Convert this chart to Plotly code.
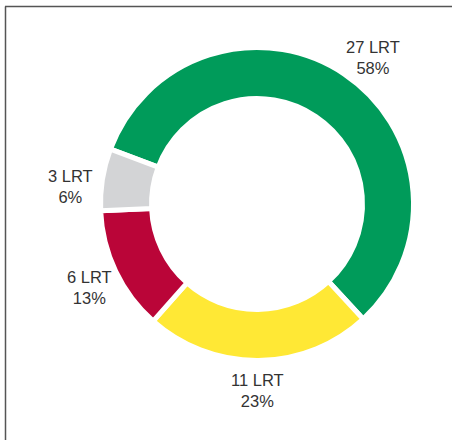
import math
import plotly.graph_objects as go

categories = ["27 LRT", "11 LRT", "6 LRT", "3 LRT"]
values = [27, 11, 6, 3]
percent_labels = ["58%", "23%", "13%", "6%"]
colors = ["#009B5A", "#FFE835", "#BA0538", "#D3D4D6"]

W, H = 452, 440
cx, cy, R = 257, 204, 156.5
start_deg = 159.5          # math angle where the first slice starts
label_dist = 187
label_angle_adj = [-4.4, -0.5, 1.0, 3.5]
FONT = "Liberation Sans, Arial, sans-serif"

fig = go.Figure(go.Pie(
    labels=categories,
    values=values,
    textinfo="none",
    hole=0.674,
    sort=False,
    direction="clockwise",
    rotation=90 - start_deg,
    marker=dict(colors=colors, line=dict(color="white", width=5)),
    showlegend=False,
    hoverinfo="skip",
    domain=dict(x=[(cx - R) / W, (cx + R) / W], y=[(H - cy - R) / H, (H - cy + R) / H]),
))

# label annotations placed at each slice's mid angle (computed from the data)
total = sum(values)
annotations = []
acc = 0
for cat, v, pct, adj in zip(categories, values, percent_labels, label_angle_adj):
    mid = start_deg - 360 * (acc + v / 2) / total + adj
    acc += v
    x = cx + label_dist * math.cos(math.radians(mid))
    y = cy - label_dist * math.sin(math.radians(mid))
    annotations.append(dict(
        x=x / W, y=1 - y / H, xref="paper", yref="paper",
        text=f"{cat}<br>{pct}", showarrow=False, xanchor="center", yanchor="middle",
        align="center", font=dict(family=FONT, size=16.5, color="#333333"),
    ))

fig.update_layout(
    width=W, height=H,
    margin=dict(l=0, r=0, t=0, b=0),
    paper_bgcolor="white",
    plot_bgcolor="white",
    annotations=annotations,
    shapes=[
        dict(type="line", xref="paper", yref="paper", x0=5.5 / W, x1=5.5 / W, y0=-0.01, y1=(H - 6.5) / H,
             line=dict(color="#555555", width=1.5)),
        dict(type="line", xref="paper", yref="paper", x0=5 / W, x1=1.01, y0=(H - 6.5) / H, y1=(H - 6.5) / H,
             line=dict(color="#555555", width=1.5)),
    ],
)

fig.write_html("out.html", config={"displayModeBar": False},
               post_script="document.body.style.margin='0';document.body.style.overflow='hidden';")
